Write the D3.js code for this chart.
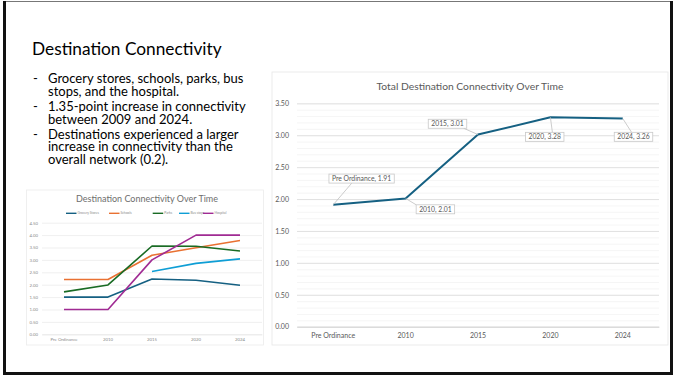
<!DOCTYPE html>
<html>
<head>
<meta charset="utf-8">
<script src="https://cdn.jsdelivr.net/npm/d3@7"></script>
<style>
  body { margin: 0; background: #fff; }
  svg { display: block; }
</style>
</head>
<body>
<svg id="slide" width="673" height="375"></svg>
<script>
// ---- data ----
const categories = ["Pre Ordinance", "2010", "2015", "2020", "2024"];
const totalValues = [1.91, 2.01, 3.01, 3.28, 3.26];
const groceryValues = [1.50, 1.50, 2.23, 2.18, 1.98];
const schoolValues = [2.21, 2.21, 3.19, 3.49, 3.78];
const parkValues = [1.71, 1.99, 3.56, 3.55, 3.36];
const busValues = [null, null, 2.53, 2.86, 3.04];
const hospitalValues = [1.00, 1.00, 3.00, 4.00, 4.00];
const seriesNames = ["Grocery Stores", "Schools", "Parks", "Bus stops", "Hospital"];
const seriesColors = ["#156082", "#e97132", "#196b24", "#0f9ed5", "#a02b93"];
const smallTicks = [0, 0.5, 1, 1.5, 2, 2.5, 3, 3.5, 4, 4.5];
const bigTicks = [0, 0.5, 1, 1.5, 2, 2.5, 3, 3.5];
const bullets = [
  ["Grocery stores, schools, parks, bus", "stops, and the hospital."],
  ["1.35-point increase in connectivity", "between 2009 and 2024."],
  ["Destinations experienced a larger", "increase in connectivity than the", "overall network (0.2)."]
];

const svg = d3.select("#slide");
const grey = "#595959";

// slide frame
svg.append("rect").attr("width", 673).attr("height", 375).attr("fill", "#fff");
svg.append("line").attr("x1", 4).attr("x2", 671).attr("y1", 1.5).attr("y2", 1.5)
  .attr("stroke", "#777").attr("stroke-width", 1);
svg.append("line").attr("x1", 4.5).attr("x2", 4.5).attr("y1", 1).attr("y2", 375)
  .attr("stroke", "#111").attr("stroke-width", 3);
svg.append("line").attr("x1", 671.5).attr("x2", 671.5).attr("y1", 1).attr("y2", 375)
  .attr("stroke", "#111").attr("stroke-width", 3);
svg.append("line").attr("x1", 3).attr("x2", 673).attr("y1", 373.5).attr("y2", 373.5)
  .attr("stroke", "#111").attr("stroke-width", 3);

// slide title + bullets
svg.append("text").attr("x", 32).attr("y", 55)
  .attr("font-family", "Lato").attr("font-size", 17.3).attr("fill", "#000")
  .text("Destination Connectivity");

let lineY = 83.3;
bullets.forEach((para, i) => {
  if (i > 0) lineY += 3.3;
  para.forEach((line, j) => {
    if (j === 0) {
      svg.append("text").attr("x", 33).attr("y", lineY)
        .attr("font-family", "Lato").attr("font-size", 13).attr("fill", "#000").text("-");
    }
    svg.append("text").attr("x", 48).attr("y", lineY)
      .attr("font-family", "Lato").attr("font-size", 13).attr("fill", "#000").text(line);
    lineY += 12.3;
  });
});

// ---- small chart ----
const small = svg.append("g");
small.append("rect").attr("x", 26.5).attr("y", 190).attr("width", 237).attr("height", 155)
  .attr("fill", "#fff").attr("stroke", "#ececec").attr("stroke-width", 0.8);

const sx = d3.scaleBand().domain(categories).range([42, 262]);
const sy = d3.scaleLinear().domain([0, 4.5]).range([334.3, 222.7]);

small.append("g")
  .attr("transform", "translate(42,0)")
  .call(d3.axisLeft(sy).tickValues(smallTicks).tickFormat(d3.format(".2f"))
    .tickSize(-220).tickPadding(4))
  .call(g => g.select(".domain").remove())
  .call(g => g.selectAll(".tick line").attr("stroke", "#e4e4e4").attr("stroke-width", 0.6))
  .call(g => g.selectAll(".tick text").attr("fill", "#8a8a8a").attr("font-size", 4.3)
    .attr("font-family", "Lato"));

small.append("g")
  .attr("transform", "translate(0,334.3)")
  .call(d3.axisBottom(sx).tickSize(0).tickPadding(4))
  .call(g => g.select(".domain").attr("stroke", "#e4e4e4").attr("stroke-width", 0.6))
  .call(g => g.selectAll(".tick text").attr("fill", "#8a8a8a").attr("font-size", 4.3)
    .attr("font-family", "Lato"));

const smallSeries = [groceryValues, schoolValues, parkValues, busValues, hospitalValues];
const smallLine = d3.line()
  .defined(d => d != null)
  .x((d, i) => sx(categories[i]) + sx.bandwidth() / 2)
  .y(d => sy(d));
small.selectAll("path.series")
  .data(smallSeries)
  .join("path")
  .attr("class", "series")
  .attr("fill", "none")
  .attr("stroke", (d, i) => seriesColors[i])
  .attr("stroke-width", 1.6)
  .attr("stroke-linejoin", "round")
  .attr("d", smallLine);

small.append("text").attr("x", 147).attr("y", 202).attr("text-anchor", "middle")
  .attr("font-family", "Lato").attr("font-size", 9).attr("fill", "#6e6e6e")
  .text("Destination Connectivity Over Time");

// legend
const legendX = [66, 109, 152.7, 179, 203];
const legend = small.selectAll("g.legend")
  .data(seriesNames)
  .join("g")
  .attr("class", "legend")
  .attr("transform", (d, i) => `translate(${legendX[i]},213.3)`);
legend.append("line").attr("x1", 0).attr("x2", 10.5)
  .attr("stroke", (d, i) => seriesColors[i]).attr("stroke-width", 1.4);
legend.append("text").attr("x", 11.5).attr("dy", "0.35em")
  .attr("font-family", "Lato").attr("font-size", 3.3).attr("fill", "#8a8a8a")
  .text(d => d);

// ---- big chart ----
const big = svg.append("g");
big.append("rect").attr("x", 272).attr("y", 72).attr("width", 396).attr("height", 273)
  .attr("fill", "#fff").attr("stroke", "#e6e6e6").attr("stroke-width", 0.8);

const bx = d3.scaleBand().domain(categories).range([297, 659]);
const by = d3.scaleLinear().domain([0, 3.5]).range([326.7, 103.3]);

// minor gridlines
big.append("g")
  .attr("transform", "translate(297,0)")
  .call(d3.axisLeft(by).ticks(35).tickSize(-362).tickFormat(""))
  .call(g => g.select(".domain").remove())
  .call(g => g.selectAll(".tick line").attr("stroke", "#f0f0f0").attr("stroke-width", 0.7));

// major gridlines + labels
big.append("g")
  .attr("transform", "translate(297,0)")
  .call(d3.axisLeft(by).tickValues(bigTicks).tickFormat(d3.format(".2f"))
    .tickSize(-362).tickPadding(8))
  .call(g => g.select(".domain").remove())
  .call(g => g.selectAll(".tick line").attr("stroke", "#dcdcdc").attr("stroke-width", 0.8))
  .call(g => g.selectAll(".tick text").attr("fill", grey).attr("font-size", 7)
    .attr("font-family", "Lato"));

big.append("g")
  .attr("transform", "translate(0,326.7)")
  .call(d3.axisBottom(bx).tickSize(0).tickPadding(6))
  .call(g => g.select(".domain").attr("stroke", "#d0d0d0").attr("stroke-width", 0.8))
  .call(g => g.selectAll(".tick text").attr("fill", grey).attr("font-size", 7)
    .attr("font-family", "Lato"));

big.append("text").attr("x", 470).attr("y", 89.5).attr("text-anchor", "middle")
  .attr("font-family", "Lato").attr("font-size", 10.3).attr("fill", grey)
  .text("Total Destination Connectivity Over Time");

const bigLine = d3.line()
  .x((d, i) => bx(categories[i]) + bx.bandwidth() / 2)
  .y(d => by(d));
big.append("path").datum(totalValues)
  .attr("fill", "none").attr("stroke", seriesColors[0]).attr("stroke-width", 2)
  .attr("stroke-linejoin", "round")
  .attr("d", bigLine);

// data labels: box centre offset from the point, and leader end on the box (fraction)
const labelLayout = [
  { dx: 28.4, dy: -26.2, ax: 0.35, ay: 1 },
  { dx: 29.8, dy: 10.9, ax: 0, ay: 0 },
  { dx: -30.5, dy: -10.8, ax: 0.92, ay: 1 },
  { dx: -5.7, dy: 19.5, ax: 0.7, ay: 0 },
  { dx: 10.7, dy: 18.2, ax: 0.45, ay: 0 }
];
totalValues.forEach((v, i) => {
  const px = bx(categories[i]) + bx.bandwidth() / 2;
  const py = by(v);
  const L = labelLayout[i];
  const g = big.append("g");
  const t = g.append("text")
    .attr("x", px + L.dx).attr("y", py + L.dy).attr("dy", "0.35em")
    .attr("text-anchor", "middle")
    .attr("font-family", "Lato").attr("font-size", 6.8).attr("fill", grey)
    .text(`${categories[i]}, ${v.toFixed(2)}`);
  const w = t.node().getComputedTextLength() + 6;
  const h = 9;
  const left = px + L.dx - w / 2, top = py + L.dy - h / 2;
  g.insert("line", "text")
    .attr("x1", px).attr("y1", py)
    .attr("x2", left + L.ax * w).attr("y2", top + L.ay * h)
    .attr("stroke", "#bfbfbf").attr("stroke-width", 0.8);
  g.insert("rect", "text")
    .attr("x", left).attr("y", top).attr("width", w).attr("height", h)
    .attr("fill", "#fff").attr("stroke", "#c8c8c8").attr("stroke-width", 0.8);
});
</script>
</body>
</html>
